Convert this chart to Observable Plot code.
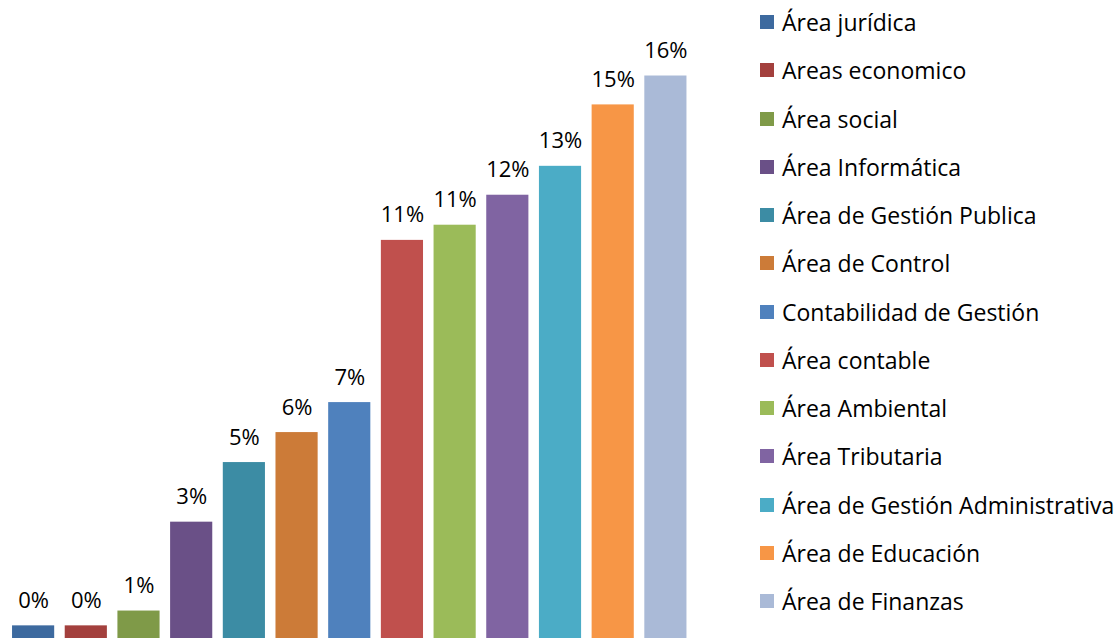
<!DOCTYPE html>
<html>
<head>
<meta charset="utf-8">
<script src="https://cdn.jsdelivr.net/npm/d3@7"></script>
<script src="https://cdn.jsdelivr.net/npm/@observablehq/plot@0.6"></script>
<style>
  html, body { margin: 0; padding: 0; background: #fff; }
  #wrap { position: relative; width: 1120px; height: 638px; overflow: hidden; font-family: "Open Sans", sans-serif; font-variant-ligatures: none; }
  #chart { position: absolute; left: 0; top: 0; }
  #legend { position: absolute; left: 760px; top: 0; }
  .item { position: absolute; left: 0; height: 30px; display: flex; align-items: center; white-space: nowrap; font-size: 23px; color: #000; }
  .sw { width: 14px; height: 14px; margin-right: 8px; flex: none; }
</style>
</head>
<body>
<div id="wrap"><div id="chart"></div><div id="legend"></div></div>
<script>
const categories = [
  "Área jurídica", "Areas economico", "Área social", "Área Informática",
  "Área de Gestión Publica", "Área de Control", "Contabilidad de Gestión",
  "Área contable", "Área Ambiental", "Área Tributaria",
  "Área de Gestión Administrativa", "Área de Educación", "Área de Finanzas"
];
const values = [0.0035, 0.0035, 0.0076, 0.0322, 0.0487, 0.0570, 0.0653, 0.1102, 0.1144, 0.1227, 0.1307, 0.1477, 0.1557];
const colors = ["#3D6A9F", "#A3403D", "#7F9A48", "#6A5087", "#3C8CA4", "#CC7B38", "#4F81BD", "#C0504D", "#9BBB59", "#8064A2", "#4BACC6", "#F79646", "#AABAD7"];

const data = categories.map((c, i) => ({cat: c, value: values[i], color: colors[i]}));
const fmt = d3.format(".0%");

const plot = Plot.plot({
  width: 1120,
  height: 638,
  marginLeft: 1.5,
  marginRight: 423,
  marginTop: 0,
  marginBottom: 0,
  style: {fontFamily: "'Open Sans', sans-serif", fontSize: "22px", background: "transparent"},
  x: {domain: categories, padding: 0.2, round: false, axis: null},
  y: {domain: [0, 0.1766], axis: null},
  marks: [
    Plot.barY(data, {x: "cat", y: "value", fill: "color"}),
    Plot.text(data, {x: "cat", y: "value", text: d => fmt(d.value), lineAnchor: "bottom", dy: -18, fill: "#000", fontSize: 22})
  ]
});
document.getElementById("chart").appendChild(plot);

const legend = document.getElementById("legend");
const legendTop = 7, legendStep = 48.25;
categories.forEach((c, i) => {
  const item = document.createElement("div");
  item.className = "item";
  item.style.top = (legendTop + i * legendStep) + "px";
  const sw = document.createElement("span");
  sw.className = "sw";
  sw.style.background = colors[i];
  const t = document.createElement("span");
  t.textContent = c;
  item.appendChild(sw);
  item.appendChild(t);
  legend.appendChild(item);
});
</script>
</body>
</html>
